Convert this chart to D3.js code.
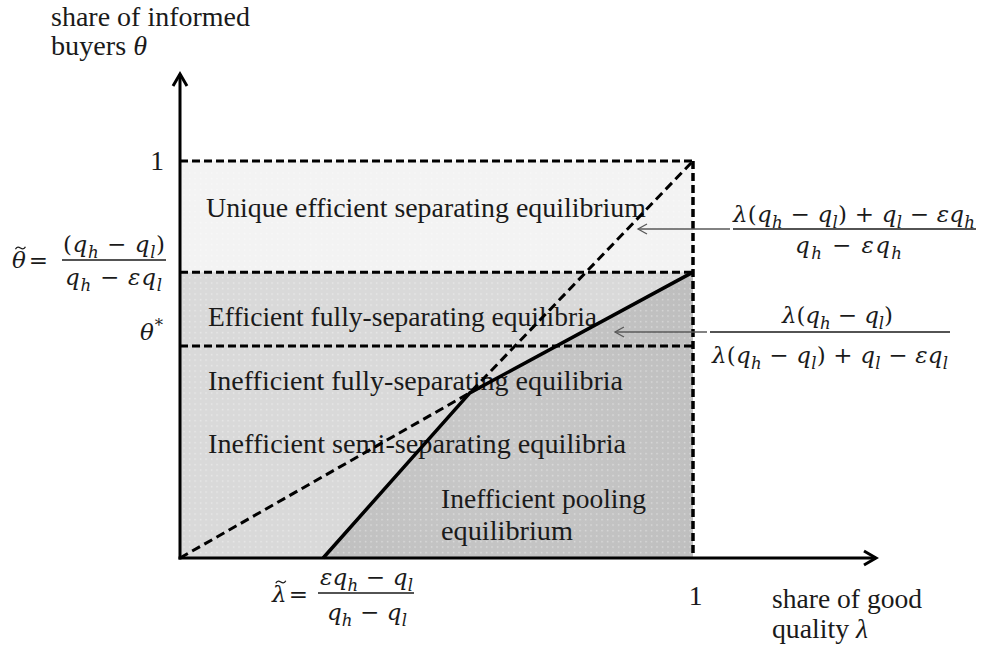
<!DOCTYPE html>
<html>
<head>
<meta charset="utf-8">
<script src="https://cdn.jsdelivr.net/npm/d3@7"></script>
<style>
  html, body { margin: 0; padding: 0; background: #ffffff; }
  svg { display: block; }
  text { white-space: pre; }
</style>
</head>
<body>
<div id="chart"></div>
<script>
// ---------------- data ----------------
const lambdaDomain = [0, 1];
const thetaDomain = [0, 1];
const thetaOne = 1;            // θ = 1
const thetaTilde = 0.72;       // θ̃
const thetaStar = 0.534;       // θ*
const lambdaOne = 1;           // λ = 1
const lambdaTilde = 0.279;     // λ̃
const kinkPoint = [0.565, 0.416];
const solidBoundary = [[lambdaTilde, 0], kinkPoint, [1, thetaTilde]];
const dashedBoundary = [[0, 0], kinkPoint, [1, 1]];
const xTickValues = [1];
const yTickValues = [1];
const xTickLabels = ["1"];
const yTickLabels = ["1"];
const regionLabels = [
  "Unique efficient separating equilibrium",
  "Efficient fully-separating equilibria",
  "Inefficient fully-separating equilibria",
  "Inefficient semi-separating equilibria",
  "Inefficient pooling",
  "equilibrium"
];
const yAxisTitle = ["share of informed", "buyers θ"];
const xAxisTitle = ["share of good", "quality λ"];
// math strings ( _x = subscript, ^x = superscript, ~x = tilde accent )
const mathThetaTilde = ["~θ =", "(q_h − q_l)", "q_h − εq_l"];
const mathThetaStar = "θ^*";
const mathUpper = ["λ(q_h − q_l) + q_l − εq_h", "q_h − εq_h"];
const mathLower = ["λ(q_h − q_l)", "λ(q_h − q_l) + q_l − εq_l"];
const mathLambdaTilde = ["~λ =", "εq_h − q_l", "q_h − q_l"];

// ---------------- layout ----------------
const W = 982, H = 650;
const TXT = "'Liberation Serif', 'Times New Roman', serif";
const MATH = "'DejaVu Serif', serif";
const TS = 27.5, MS = 23;

const x = d3.scaleLinear().domain(lambdaDomain).range([180, 693]);
const y = d3.scaleLinear().domain(thetaDomain).range([558, 161]);

const svg = d3.select("#chart").append("svg")
  .attr("width", W).attr("height", H)
  .attr("viewBox", `0 0 ${W} ${H}`);

const defs = svg.append("defs");
const pat = defs.append("pattern").attr("id", "dots")
  .attr("patternUnits", "userSpaceOnUse").attr("width", 5.5).attr("height", 5.5);
pat.append("rect").attr("x", 2).attr("y", 2).attr("width", 1.2).attr("height", 1.2)
  .attr("fill", "#ffffff").attr("opacity", 0.6);

const poolGrad = defs.append("radialGradient").attr("id", "poolGrad")
  .attr("gradientUnits", "userSpaceOnUse")
  .attr("cx", x(0.62)).attr("cy", y(0.3)).attr("r", 260);
poolGrad.append("stop").attr("offset", "0%").attr("stop-color", "#c9c9c9");
poolGrad.append("stop").attr("offset", "100%").attr("stop-color", "#bdbdbd");

const line = d3.line().x(d => x(d[0])).y(d => y(d[1]));

// ---------------- regions ----------------
const topRegion = [[0, thetaTilde], [1, thetaTilde], [1, thetaOne], [0, thetaOne]];
const lowRegion = [[0, 0], [1, 0], [1, thetaTilde], [0, thetaTilde]];
const poolRegion = [solidBoundary[0], solidBoundary[1], solidBoundary[2], [1, 0]];

const gR = svg.append("g");
gR.append("path").attr("d", line(topRegion) + "Z").attr("fill", "#f3f3f3");
gR.append("path").attr("d", line(lowRegion) + "Z").attr("fill", "#d9d9d9");
gR.append("path").attr("d", line(poolRegion) + "Z").attr("fill", "url(#poolGrad)");
gR.append("path").attr("d", line([[0, 0], [1, 0], [1, thetaOne], [0, thetaOne]]) + "Z")
  .attr("fill", "url(#dots)");

// ---------------- region labels ----------------
const labelPos = [
  { x: 206, y: 217, w: 440 },
  { x: 208, y: 326, w: 389 },
  { x: 208, y: 390, w: 415 },
  { x: 208, y: 453, w: 418 },
  { x: 441, y: 508, w: 205 },
  { x: 441, y: 540, w: 132 }
];
svg.append("g").selectAll("text").data(regionLabels).join("text")
  .attr("x", (d, i) => labelPos[i].x)
  .attr("y", (d, i) => labelPos[i].y)
  .attr("textLength", (d, i) => labelPos[i].w)
  .attr("lengthAdjust", "spacingAndGlyphs")
  .attr("font-family", TXT).attr("font-size", TS).attr("fill", "#1a1a1a")
  .text(d => d);

// ---------------- dashed reference lines ----------------
const gD = svg.append("g").attr("fill", "none").attr("stroke", "#000")
  .attr("stroke-width", 3).attr("stroke-dasharray", "8,4");
[thetaOne, thetaTilde, thetaStar].forEach(t => {
  gD.append("path").attr("d", line([[0, t], [1, t]]));
});
gD.append("path").attr("d", line([[lambdaOne, thetaOne], [lambdaOne, 0]]))
  .attr("stroke-width", 3.5);
gD.append("path").attr("d", line(dashedBoundary)).attr("stroke-dasharray", "9,5");

// solid boundary
svg.append("path").attr("d", line(solidBoundary))
  .attr("fill", "none").attr("stroke", "#000").attr("stroke-width", 3.5)
  .attr("stroke-linejoin", "round");

// ---------------- axes ----------------
function chevron(g, tip, dir, len, half, color, width) {
  const px = -dir[1], py = dir[0];
  const bx = tip[0] - dir[0] * len, by = tip[1] - dir[1] * len;
  g.append("path")
    .attr("d", `M${bx + px * half},${by + py * half}L${tip[0]},${tip[1]}L${bx - px * half},${by - py * half}`)
    .attr("fill", "none").attr("stroke", color).attr("stroke-width", width)
    .attr("stroke-linejoin", "miter").attr("stroke-linecap", "butt");
}
const gA = svg.append("g");
gA.append("line").attr("x1", x(0)).attr("y1", y(0) + 1.5).attr("x2", x(0)).attr("y2", 74)
  .attr("stroke", "#000").attr("stroke-width", 3);
gA.append("line").attr("x1", x(0) - 1.5).attr("y1", y(0)).attr("x2", 876).attr("y2", y(0))
  .attr("stroke", "#000").attr("stroke-width", 3);
chevron(gA, [x(0), 74], [0, -1], 12, 7, "#000", 3);
chevron(gA, [876, y(0)], [1, 0], 12, 7, "#000", 3);

const xAxis = d3.axisBottom(x).tickValues(xTickValues).tickSize(0).tickPadding(27)
  .tickFormat((d, i) => xTickLabels[i]);
const yAxis = d3.axisLeft(y).tickValues(yTickValues).tickSize(0).tickPadding(16)
  .tickFormat((d, i) => yTickLabels[i]);
const gx = svg.append("g").attr("transform", `translate(0,${y(0)})`).call(xAxis);
const gy = svg.append("g").attr("transform", `translate(${x(0)},0)`).call(yAxis);
[gx, gy].forEach(g => {
  g.select(".domain").remove();
  g.selectAll("text").attr("font-family", TXT).attr("font-size", TS).attr("fill", "#1a1a1a");
});
gx.selectAll(".tick text").attr("dx", 2);

// ---------------- axis titles ----------------
function titleLine(str, xx, yy, w) {
  const t = svg.append("text").attr("x", xx).attr("y", yy)
    .attr("font-family", TXT).attr("font-size", TS).attr("fill", "#1a1a1a")
    .attr("textLength", w).attr("lengthAdjust", "spacingAndGlyphs");
  const parts = str.split(/([θλ])/);
  parts.forEach(p => {
    if (!p) return;
    const ts = t.append("tspan").text(p);
    if (/[θλ]/.test(p)) ts.attr("font-style", "italic");
  });
}
titleLine(yAxisTitle[0], 51, 26, 199);
titleLine(yAxisTitle[1], 51, 55, 96);
titleLine(xAxisTitle[0], 772, 608, 150);
titleLine(xAxisTitle[1], 772, 638, 96);

// ---------------- math ----------------
function mathText(str, xx, yy, w, size) {
  size = size || MS;
  const t = svg.append("text").attr("x", xx).attr("y", yy)
    .attr("font-family", MATH).attr("font-size", size).attr("fill", "#1a1a1a");
  if (w) t.attr("textLength", w).attr("lengthAdjust", "spacing");
  const chars = Array.from(str);
  let shift = 0, idx = 0;
  const accents = [];
  for (let i = 0; i < chars.length; i++) {
    let c = chars[i], mode = "base";
    if (c === "~") { accents.push(idx); c = chars[++i]; }
    if (c === "_") { mode = "sub"; c = chars[++i]; }
    else if (c === "^") { mode = "sup"; c = chars[++i]; }
    const target = mode === "sub" ? size * 0.25 : mode === "sup" ? -size * 0.4 : 0;
    const ts = t.append("tspan").text(c);
    if (target !== shift) { ts.attr("dy", target - shift); shift = target; }
    if (mode !== "base") ts.attr("font-size", size * 0.72);
    if (/[A-Za-zα-ωθλε]/.test(c[0])) ts.attr("font-style", "italic");
    idx += 1;
  }
  accents.forEach(k => {
    const r = t.node().getExtentOfChar(k);
    const cx = r.x + r.width / 2 + 1.5, cy = r.y + 1;
    svg.append("path")
      .attr("d", `M${cx - 5},${cy + 1.3} C${cx - 3.5},${cy - 1.8} ${cx - 1.5},${cy - 1} ${cx},${cy} S${cx + 3.5},${cy + 1.8} ${cx + 5},${cy - 1.3}`)
      .attr("fill", "none").attr("stroke", "#1a1a1a").attr("stroke-width", 1.3);
  });
  return t;
}
function bar(x1, x2, yy) {
  svg.append("line").attr("x1", x1).attr("x2", x2).attr("y1", yy).attr("y2", yy)
    .attr("stroke", "#1a1a1a").attr("stroke-width", 1.3);
}

// θ̃ = ...
mathText(mathThetaTilde[0], 12, 268, 36);
mathText(mathThetaTilde[1], 63, 252, 102);
bar(62, 166, 260);
mathText(mathThetaTilde[2], 65, 285, 97);
// θ*
mathText(mathThetaStar, 140, 340, 23);
// upper right formula
mathText(mathUpper[0], 733, 222, 242);
bar(733, 976, 229);
mathText(mathUpper[1], 795, 253, 107);
// lower right formula
mathText(mathLower[0], 782, 323, 111);
bar(710, 950, 332);
mathText(mathLower[1], 712, 363, 236);
// λ̃ = ...
mathText(mathLambdaTilde[0], 272, 602, 36);
mathText(mathLambdaTilde[1], 320, 585, 93);
bar(318, 414, 593);
mathText(mathLambdaTilde[2], 327, 620, 80);

// ---------------- pointer arrows ----------------
const gP = svg.append("g");
[[[730, 229], [638, 229]], [[707, 332], [615, 332]]].forEach(([from, tip]) => {
  gP.append("line").attr("x1", from[0]).attr("y1", from[1]).attr("x2", tip[0]).attr("y2", tip[1])
    .attr("stroke", "#595959").attr("stroke-width", 1.3);
  chevron(gP, tip, [-1, 0], 9, 5, "#595959", 1.3);
});
</script>
</body>
</html>
